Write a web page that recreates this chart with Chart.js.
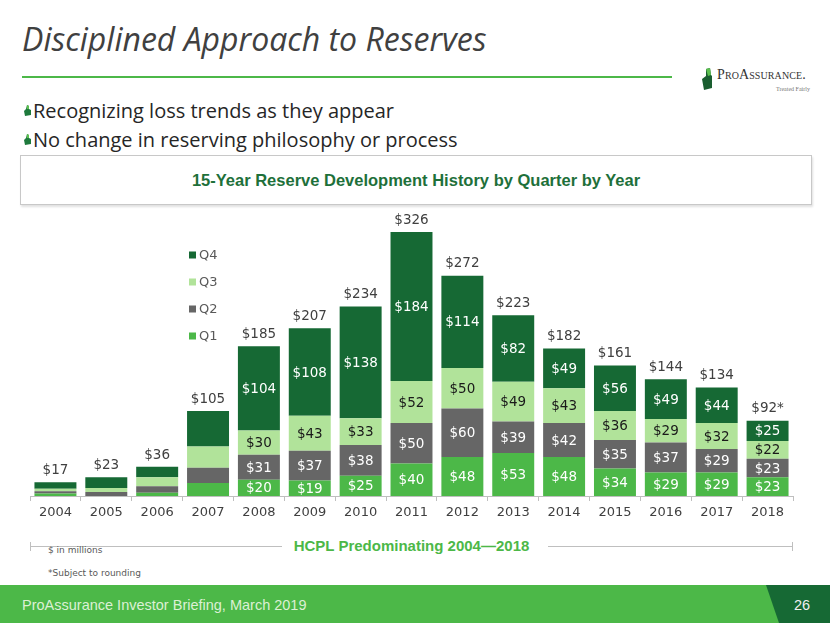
<!DOCTYPE html>
<html><head><meta charset="utf-8">
<script src="https://cdn.jsdelivr.net/npm/chart.js@4.4.1/dist/chart.umd.min.js"></script>
<style>
html,body{margin:0;padding:0;width:830px;height:623px;overflow:hidden;background:#fff;}
#slide{position:relative;width:830px;height:623px;}
.title{position:absolute;left:22px;top:23px;font-family:'Open Sans';font-style:italic;font-size:32px;line-height:1;color:#404040;white-space:nowrap;}
.rule{position:absolute;left:22px;top:76px;width:650px;height:2px;background:#4cb848;}
.logo{position:absolute;left:700px;top:66px;width:120px;height:30px;}
.logotext{position:absolute;left:717px;top:67px;font-family:'Liberation Serif';font-variant:small-caps;font-size:14px;color:#333;letter-spacing:0.1px;white-space:nowrap;}
.tag{position:absolute;left:776px;top:86px;font-family:'Liberation Serif';font-size:6px;color:#777;white-space:nowrap;}
.bullet{position:absolute;left:33px;font-family:'Open Sans';font-size:20px;line-height:1;color:#262626;white-space:nowrap;}
.bicon{position:absolute;left:23px;width:9px;height:11px;}
.box{position:absolute;left:20px;top:155px;width:792px;height:50px;border:1px solid #c8c8c8;box-shadow:1px 2px 2px rgba(0,0,0,0.12);display:flex;align-items:center;justify-content:center;font-family:'Liberation Sans';font-weight:bold;font-size:16.5px;color:#1e703a;box-sizing:border-box;}
#wrap{position:absolute;left:0;top:200px;width:830px;height:334px;}
.hcpl{position:absolute;left:30px;top:538px;width:763px;height:16px;}
.hline{position:absolute;top:8px;height:1px;background:#bfbfbf;}
.cap{position:absolute;top:4px;width:1px;height:9px;background:#bfbfbf;}
.htext{position:absolute;left:0;width:763px;top:0;text-align:center;font-family:'Liberation Sans';font-weight:bold;font-size:15px;line-height:16px;color:#4cb848;}
.note{position:absolute;left:48px;font-family:'DejaVu Sans';font-size:9px;color:#595959;white-space:nowrap;}
.footer{position:absolute;left:0;top:585px;width:830px;height:38px;background:#4cb848;}
.ftext{position:absolute;left:22px;top:597px;font-family:'Liberation Sans';font-size:14.5px;color:#dcf0d5;white-space:nowrap;}
.pnum{position:absolute;left:794px;top:597px;font-family:'Liberation Sans';font-size:14.5px;color:#f0f0f0;}
</style></head>
<body><div id="slide">
<div class="title">Disciplined Approach to Reserves</div>
<div class="rule"></div>
<svg class="logo" viewBox="0 0 120 30"><polygon points="6,3 10,2 11,9 12,10 12,22 4,24 2,13 6,10" fill="#1a5e30"/><polygon points="6,3 10,2 11,9 8,10" fill="#5cc04f"/></svg>
<div class="logotext">ProAssurance.</div>
<div class="tag">Treated Fairly</div>
<svg class="bicon" style="top:105px" viewBox="0 0 9 11"><polygon points="4,0 6,1 6,4 8,5 8,10 2,11 1,6 3,4" fill="#1e7a3c"/><polygon points="4,0 6,1 6,4 4,4" fill="#5cc04f"/></svg>
<div class="bullet" style="top:101px">Recognizing loss trends as they appear</div>
<svg class="bicon" style="top:134px" viewBox="0 0 9 11"><polygon points="4,0 6,1 6,4 8,5 8,10 2,11 1,6 3,4" fill="#1e7a3c"/><polygon points="4,0 6,1 6,4 4,4" fill="#5cc04f"/></svg>
<div class="bullet" style="top:130px">No change in reserving philosophy or process</div>
<div class="box">15-Year Reserve Development History by Quarter by Year</div>
<div id="wrap"><canvas id="c" width="830" height="334"></canvas></div>
<div class="hcpl">
  <div class="cap" style="left:0"></div>
  <div class="hline" style="left:0;width:252px"></div>
  <div class="hline" style="left:518px;width:245px"></div>
  <div class="cap" style="left:762px"></div>
  <div class="htext">HCPL Predominating 2004—2018</div>
</div>
<div class="note" style="top:545px">$ in millions</div>
<div class="note" style="top:568px">*Subject to rounding</div>
<div class="footer"></div>
<svg style="position:absolute;left:0;top:585px" width="830" height="38"><polygon points="766,0 830,0 830,38 779,38" fill="#166934"/></svg>
<div class="ftext">ProAssurance Investor Briefing, March 2019</div>
<div class="pnum">26</div>
</div>
<script>
const years = ['2004','2005','2006','2007','2008','2009','2010','2011','2012','2013','2014','2015','2016','2017','2018'];
const q1 = [3, 0, 4, 16, 20, 19, 25, 40, 48, 53, 48, 34, 29, 29, 23];
const q2 = [3, 5, 8, 19, 31, 37, 38, 50, 60, 39, 42, 35, 37, 29, 23];
const q3 = [3, 5, 11, 26, 30, 43, 33, 52, 50, 49, 43, 36, 29, 32, 22];
const q4 = [8, 13, 13, 44, 104, 108, 138, 184, 114, 82, 49, 56, 49, 44, 25];
const totalLabels = ['$17','$23','$36','$105','$185','$207','$234','$326','$272','$223','$182','$161','$144','$134','$92*'];
const segLabelShown = [false,false,false,false,true,true,true,true,true,true,true,true,true,true,true];
const seriesNames = ['Q1','Q2','Q3','Q4'];
const seriesColors = ['#4cb848','#666666','#b1e39a','#166934'];
const segLabelColors = ['#ffffff','#ffffff','#1a1a1a','#ffffff'];

const labelPlugin = {
  id: 'segLabels',
  afterDatasetsDraw(chart) {
    const ctx = chart.ctx;
    ctx.save();
    ctx.font = '13.5px "DejaVu Sans"';
    ctx.textAlign = 'center';
    ctx.textBaseline = 'middle';
    chart.data.datasets.forEach((ds, i) => {
      const meta = chart.getDatasetMeta(i);
      meta.data.forEach((bar, j) => {
        if (!segLabelShown[j]) return;
        ctx.fillStyle = segLabelColors[i];
        ctx.fillText('$' + ds.data[j], bar.x, (bar.y + bar.base) / 2 + 1);
      });
    });
    const top = chart.getDatasetMeta(chart.data.datasets.length - 1);
    ctx.fillStyle = '#404040';
    ctx.textBaseline = 'bottom';
    top.data.forEach((bar, j) => {
      ctx.fillText(totalLabels[j], bar.x, bar.y - 5);
    });
    const ca = chart.chartArea;
    ctx.textAlign = 'left';
    ctx.textBaseline = 'middle';
    ctx.font = '13px "DejaVu Sans"';
    for (let k = 3; k >= 0; k--) {
      const y = ca.top + 42.5 + (3 - k) * 27;
      ctx.fillStyle = seriesColors[k];
      ctx.fillRect(ca.left + 159, y - 3.5, 7, 7);
      ctx.fillStyle = '#595959';
      ctx.fillText(seriesNames[k], ca.left + 169, y + 1);
    }
    ctx.restore();
  }
};

new Chart(document.getElementById('c'), {
  type: 'bar',
  data: {
    labels: years,
    datasets: [q1, q2, q3, q4].map((d, i) => ({
      label: seriesNames[i],
      data: d,
      backgroundColor: seriesColors[i],
      borderWidth: 0,
      categoryPercentage: 1,
      barPercentage: 0.825
    }))
  },
  options: {
    responsive: false,
    animation: false,
    devicePixelRatio: 1,
    layout: { padding: { left: 30, right: 37, top: 12.5, bottom: 4 } },
    plugins: { legend: { display: false }, tooltip: { enabled: false } },
    scales: {
      x: {
        stacked: true,
        grid: { drawOnChartArea: false, drawTicks: true, tickLength: 5, color: '#bfbfbf', offset: true },
        border: { color: '#bfbfbf' },
        ticks: { color: '#404040', font: { family: 'DejaVu Sans', size: 13 }, padding: 4, maxRotation: 0 },
        afterFit(s) { s.height = 34; }
      },
      y: {
        stacked: true,
        display: false,
        min: 0,
        max: 350
      }
    }
  },
  plugins: [labelPlugin]
});
</script>
</body></html>
